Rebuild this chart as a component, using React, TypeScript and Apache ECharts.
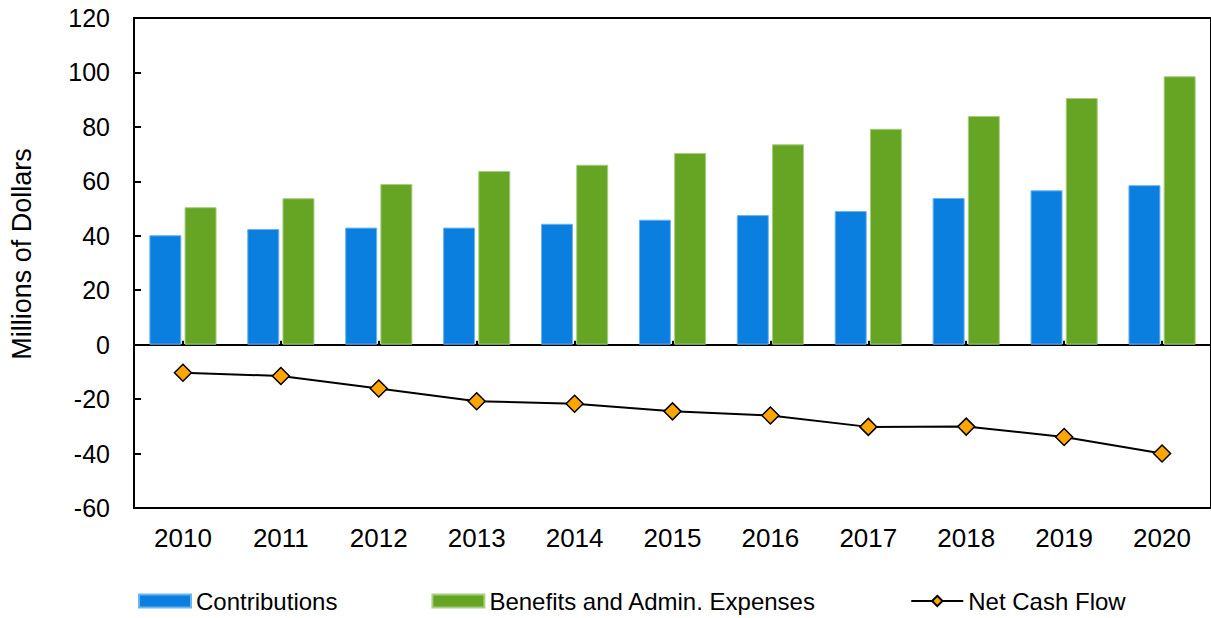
import React, { useEffect, useRef } from "react";
import * as echarts from "echarts";

const years = ["2010", "2011", "2012", "2013", "2014", "2015", "2016", "2017", "2018", "2019", "2020"];
const contributions = [40.2, 42.5, 43.0, 43.0, 44.4, 45.9, 47.6, 49.1, 53.9, 56.7, 58.6];
const benefits = [50.5, 53.8, 59.0, 63.8, 66.1, 70.4, 73.6, 79.3, 84.0, 90.6, 98.6];
const netCashFlow = [-10.3, -11.5, -16.1, -20.8, -21.7, -24.5, -26.0, -30.2, -30.1, -33.9, -40.0];
const yTitle = "Millions of Dollars";

const FONT = "'Liberation Sans', Arial, sans-serif";

export default function App() {
  const ref = useRef<HTMLDivElement>(null);
  useEffect(() => {
    if (!ref.current) return;
    const chart = echarts.init(ref.current, null, { renderer: "svg" });
    chart.setOption({
      animation: false,
      textStyle: { fontFamily: FONT, color: "#000" },
      grid: {
        left: 134,
        top: 18,
        right: -5,
        bottom: 110,
        show: true,
        borderColor: "#000",
        borderWidth: 2,
        backgroundColor: "transparent",
      },
      legend: {
        left: 133,
        top: 584,
        itemWidth: 52,
        itemHeight: 13,
        itemGap: 94,
        textStyle: { fontSize: 24, color: "#000", fontFamily: FONT },
        data: [
          { name: "Contributions", icon: "rect" },
          { name: "Benefits and Admin. Expenses", icon: "rect" },
          { name: "Net Cash Flow" },
        ],
      },
      xAxis: [
        {
          type: "category",
          data: years,
          position: "bottom",
          axisLine: { show: false, onZero: false },
          axisTick: { show: false },
          axisLabel: { color: "#000", fontSize: 26, fontFamily: FONT, margin: 17 },
        },
        {
          type: "category",
          data: years,
          position: "bottom",
          axisLine: { show: true, onZero: true, lineStyle: { color: "#000", width: 2 } },
          axisTick: { show: true, inside: true, alignWithLabel: true, length: 4, lineStyle: { color: "#000", width: 2 } },
          axisLabel: { show: false },
        },
      ],
      yAxis: {
        type: "value",
        min: -60,
        max: 120,
        interval: 20,
        axisLine: { show: true, lineStyle: { color: "#000", width: 2 } },
        axisTick: { show: true, inside: true, length: 7, lineStyle: { color: "#000", width: 2 } },
        splitLine: { show: false },
        axisLabel: { color: "#000", fontSize: 25, fontFamily: FONT, margin: 24 },
      },
      graphic: [
        {
          type: "text",
          x: 22,
          y: 254,
          rotation: Math.PI / 2,
          style: {
            text: yTitle,
            fontSize: 27,
            fontFamily: FONT,
            fill: "#000",
            align: "center",
            verticalAlign: "middle",
          },
        },
      ],
      series: [
        {
          name: "Contributions",
          type: "bar",
          data: contributions,
          xAxisIndex: 0,
          barWidth: 32,
          barGap: "10%",
          itemStyle: { color: "#0A7FE0", borderColor: "#6DB5F0", borderWidth: 1 },
        },
        {
          name: "Benefits and Admin. Expenses",
          type: "bar",
          data: benefits,
          xAxisIndex: 0,
          barWidth: 32,
          barGap: "10%",
          itemStyle: { color: "#66A424", borderColor: "#A8CE80", borderWidth: 1 },
        },
        {
          name: "Net Cash Flow",
          type: "line",
          data: netCashFlow,
          xAxisIndex: 1,
          symbol: "diamond",
          symbolSize: 17,
          lineStyle: { color: "#000", width: 2 },
          itemStyle: { color: "#FFA500", borderColor: "#000", borderWidth: 1.5 },
          z: 5,
        },
      ],
    });
    return () => chart.dispose();
  }, []);
  return <div ref={ref} style={{ position: "absolute", left: 0, top: 0, width: 1211, height: 618 }} />;
}
